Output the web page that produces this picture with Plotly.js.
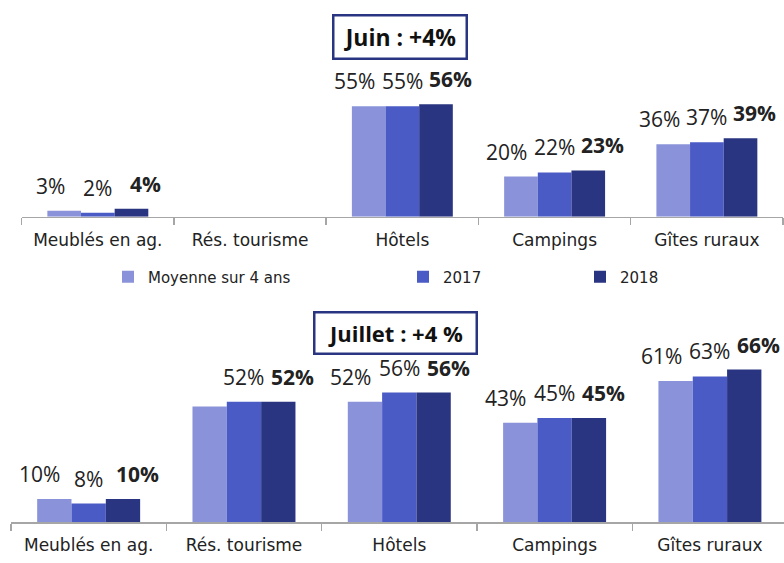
<!DOCTYPE html>
<html>
<head>
<meta charset="utf-8">
<script src="https://cdn.plot.ly/plotly-3.0.1.min.js"></script>
<style>html,body{margin:0;padding:0;background:#fff;}#chart{width:784px;height:563px;}</style>
</head>
<body>
<div id="chart"></div>
<script>
// ---- data ----
const categories = ["Meublés en ag.", "Rés. tourisme", "Hôtels", "Campings", "Gîtes ruraux"];
const seriesNames = ["Moyenne sur 4 ans", "2017", "2018"];
const juinMoy  = [3, null, 55, 20, 36];
const juin2017 = [2, null, 55, 22, 37];
const juin2018 = [4, null, 56, 23, 39];
const juilletMoy  = [10, 50, 52, 43, 61];
const juillet2017 = [8, 52, 56, 45, 63];
const juillet2018 = [10, 52, 56, 45, 66];
const juinLabelsMoy  = ["3%", "", "55%", "20%", "36%"];
const juinLabels2017 = ["2%", "", "55%", "22%", "37%"];
const juinLabels2018 = ["4%", "", "56%", "23%", "39%"];
const juilletLabelsMoy  = ["10%", "", "52%", "43%", "61%"];
const juilletLabels2017 = ["8%", "52%", "56%", "45%", "63%"];
const juilletLabels2018 = ["10%", "52%", "56%", "45%", "66%"];
const titleJuin = "Juin : +4%";
const titleJuillet = "Juillet : +4 %";

// ---- style ----
const colors = ["#8a93d9", "#4a5bc6", "#2a3581"];
const W = 784, H = 563;
const FONT = "'DejaVu Sans', sans-serif";
const TFONT = "'Open Sans', 'Noto Sans', sans-serif";
const bargap = 0.337;
const xDom1 = [21.7 / W, 783 / W], xRange1 = [-0.5, 4.5];
const xDom2 = [11 / W, 1], xRange2 = [-0.5, 4.477];
const yDom1 = [(H - 216.7) / H, (H - 30) / H], yRange1 = [0, 92.9];
const yDom2 = [(H - 522) / H, (H - 330) / H], yRange2 = [0, 83.1];

const juinVals = [juinMoy, juin2017, juin2018];
const juilletVals = [juilletMoy, juillet2017, juillet2018];
const juinLabels = [juinLabelsMoy, juinLabels2017, juinLabels2018];
const juilletLabels = [juilletLabelsMoy, juilletLabels2017, juilletLabels2018];

const traces = [];
const legendIds = ["legend", "legend2", "legend3"];
for (let i = 0; i < 3; i++) {
  traces.push({
    type: "bar", x: categories, y: juinVals[i], name: seriesNames[i],
    marker: {color: colors[i], line: {width: 0}},
    xaxis: "x", yaxis: "y", legend: legendIds[i], showlegend: true,
    hoverinfo: "skip"
  });
  traces.push({
    type: "bar", x: categories, y: juilletVals[i], name: seriesNames[i],
    marker: {color: colors[i], line: {width: 0}},
    xaxis: "x2", yaxis: "y2", showlegend: false, hoverinfo: "skip"
  });
}

function barWidthPx(dom, range) {
  const px = (dom[1] - dom[0]) * W / (range[1] - range[0]);
  return px * (1 - bargap) / 3;
}
const bw1 = barWidthPx(xDom1, xRange1);
const bw2 = barWidthPx(xDom2, xRange2);
const spread = 1.42;

const annotations = [];
function addLabels(vals, labels, xref, yref, bw) {
  for (let i = 0; i < 3; i++) {
    for (let j = 0; j < categories.length; j++) {
      if (vals[i][j] == null || !labels[i][j]) continue;
      annotations.push({
        x: categories[j], y: vals[i][j], xref: xref, yref: yref,
        text: labels[i][j], showarrow: false,
        xanchor: "center", yanchor: "bottom",
        xshift: (i - 1) * bw * spread, yshift: 9,
        font: {family: TFONT, size: 21, color: "#222", weight: i === 2 ? "bold" : "normal"}
      });
    }
  }
}
addLabels(juinVals, juinLabels, "x", "y", bw1);
addLabels(juilletVals, juilletLabels, "x2", "y2", bw2);

annotations.push({
  x: 400 / W, y: (H - 37) / H, xref: "paper", yref: "paper",
  text: "<b>" + titleJuin + "</b>", showarrow: false,
  xanchor: "center", yanchor: "middle",
  width: 121, height: 31, borderpad: 5, borderwidth: 2.5,
  bordercolor: "#2a3581", bgcolor: "#fff",
  font: {family: TFONT, size: 23, color: "#111"}
});
annotations.push({
  x: 395 / W, y: (H - 333.5) / H, xref: "paper", yref: "paper",
  text: "<b>" + titleJuillet + "</b>", showarrow: false,
  xanchor: "center", yanchor: "middle",
  width: 150, height: 29, borderpad: 5, borderwidth: 2.5,
  bordercolor: "#2a3581", bgcolor: "#fff",
  font: {family: TFONT, size: 22, color: "#111"}
});

const xBase = {
  type: "category", showgrid: false, zeroline: false, fixedrange: true,
  showline: true, linecolor: "#a6a6a6", linewidth: 1.5,
  ticks: "outside", tickson: "boundaries", ticklen: 7, tickcolor: "#a6a6a6", tickwidth: 1.5,
  tickfont: {family: FONT, size: 17, color: "#222"}, ticklabelstandoff: 7
};
const yBase = {showgrid: false, zeroline: false, showline: false, showticklabels: false, ticks: "", fixedrange: true};

const legBase = {
  orientation: "h", yanchor: "middle", xanchor: "left",
  font: {family: FONT, size: 15, color: "#222"},
  bgcolor: "rgba(0,0,0,0)", borderwidth: 0, itemwidth: 30
};
const legY = (H - 277) / H;

const layout = {
  width: W, height: H,
  margin: {l: 0, r: 0, t: 0, b: 0},
  paper_bgcolor: "#fff", plot_bgcolor: "#fff",
  barmode: "group", bargap: bargap, bargroupgap: 0,
  font: {family: FONT},
  xaxis: Object.assign({}, xBase, {domain: xDom1, range: xRange1, anchor: "y"}),
  yaxis: Object.assign({}, yBase, {domain: yDom1, range: yRange1, anchor: "x"}),
  xaxis2: Object.assign({}, xBase, {domain: xDom2, range: xRange2, anchor: "y2"}),
  yaxis2: Object.assign({}, yBase, {domain: yDom2, range: yRange2, anchor: "x2"}),
  legend: Object.assign({}, legBase, {x: 108 / W, y: legY}),
  legend2: Object.assign({}, legBase, {x: 403 / W, y: legY}),
  legend3: Object.assign({}, legBase, {x: 580 / W, y: legY}),
  annotations: annotations,
  showlegend: true
};

Plotly.newPlot("chart", traces, layout, {staticPlot: true, displayModeBar: false});
</script>
</body>
</html>
